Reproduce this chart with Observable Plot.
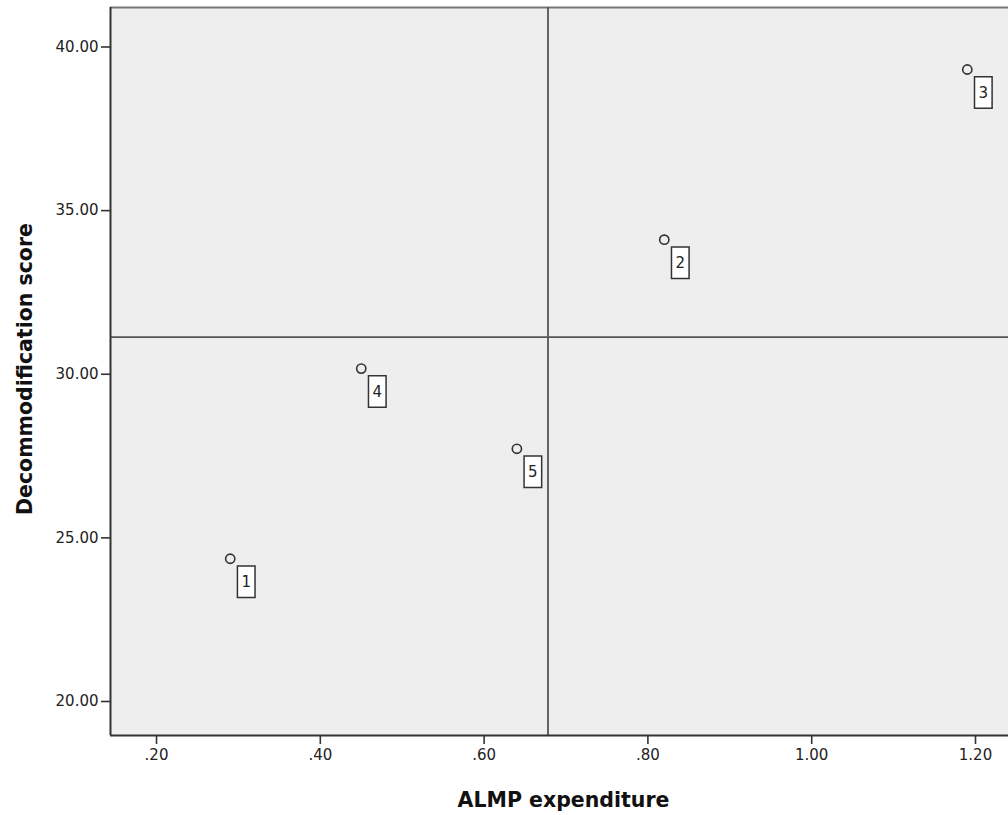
<!DOCTYPE html>
<html><head><meta charset="utf-8">
<script src="https://cdn.jsdelivr.net/npm/d3@7"></script>
<script src="https://cdn.jsdelivr.net/npm/@observablehq/plot@0.6"></script>
<style>body{margin:0;background:#fff}</style>
</head><body><div id="chart"></div>
<script>
const caseIds = ["1", "2", "3", "4", "5"];
const almp = [0.29, 0.82, 1.19, 0.45, 0.64];
const decom = [24.27, 34.02, 39.22, 30.08, 27.63];
const xTicks = [0.2, 0.4, 0.6, 0.8, 1.0, 1.2];
const xTickLabels = [".20", ".40", ".60", ".80", "1.00", "1.20"];
const yTicks = [20, 25, 30, 35, 40];
const yTickLabels = ["20.00", "25.00", "30.00", "35.00", "40.00"];
const xDomain = [0.1438, 1.2403];
const yDomain = [18.869, 41.115];
const xTitle = "ALMP expenditure";
const yTitle = "Decommodification score";

const data = caseIds.map((id, i) => ({id, x: almp[i], y: decom[i]}));
const meanX = [d3.mean(almp)];
const meanY = [d3.mean(decom)];

const FONT = "DejaVu Sans";
const BW = 17.6, BH = 31.5;
const boxSymbol = {
  draw(ctx) {
    ctx.moveTo(-BW / 2, -BH / 2);
    ctx.lineTo(BW / 2, -BH / 2);
    ctx.lineTo(BW / 2, BH / 2);
    ctx.lineTo(-BW / 2, BH / 2);
    ctx.closePath();
  }
};

const chart = Plot.plot({
  width: 1008,
  height: 815,
  marginLeft: 110,
  marginRight: 0,
  marginTop: 7,
  marginBottom: 80,
  style: {fontFamily: FONT, background: "white", color: "#222"},
  x: {domain: xDomain, axis: null},
  y: {domain: yDomain, axis: null},
  marks: [
    Plot.frame({fill: "#eeeeee", stroke: null}),
    Plot.ruleY([yDomain[1]], {stroke: "#777", strokeWidth: 2}),
    Plot.ruleX(meanX, {stroke: "#555", strokeWidth: 1.8}),
    Plot.ruleY(meanY, {stroke: "#555", strokeWidth: 1.8}),
    Plot.ruleX([xDomain[0]], {stroke: "#333", strokeWidth: 2}),
    Plot.ruleY([yDomain[0]], {stroke: "#333", strokeWidth: 2}),
    Plot.axisX(xTicks, {
      tickFormat: d => xTickLabels[xTicks.indexOf(d)],
      tickSize: 9, tickPadding: 5, fontSize: 15, fontFamily: FONT,
      stroke: "#333", strokeWidth: 1.6, fill: "#222", label: null
    }),
    Plot.axisY(yTicks, {
      tickFormat: d => yTickLabels[yTicks.indexOf(d)],
      tickSize: 9, tickPadding: 3, fontSize: 15, fontFamily: FONT,
      stroke: "#333", strokeWidth: 1.6, fill: "#222", label: null, dy: 3
    }),
    Plot.dot(data, {x: "x", y: "y", r: 4.6, stroke: "#333", strokeWidth: 1.6, fill: "none"}),
    Plot.dot(data, {x: "x", y: "y", symbol: boxSymbol, r: 1, dx: 16, dy: 23,
      fill: "white", stroke: "#333", strokeWidth: 1.5}),
    Plot.text(data, {x: "x", y: "y", text: "id", dx: 16, dy: 23.5,
      fontSize: 15, fontFamily: FONT, fill: "#222"}),
    Plot.text([xTitle], {frameAnchor: "bottom", textAnchor: "middle", dx: 4, dy: 71, lineAnchor: "bottom",
      fontSize: 20.5, fontWeight: "bold", fontFamily: FONT, fill: "#111"}),
    Plot.text([yTitle], {frameAnchor: "left", textAnchor: "middle", rotate: -90, dx: -79, dy: -2.5, lineAnchor: "bottom",
      fontSize: 20.5, fontWeight: "bold", fontFamily: FONT, fill: "#111"})
  ]
});
document.getElementById("chart").appendChild(chart);
</script>
</body></html>
